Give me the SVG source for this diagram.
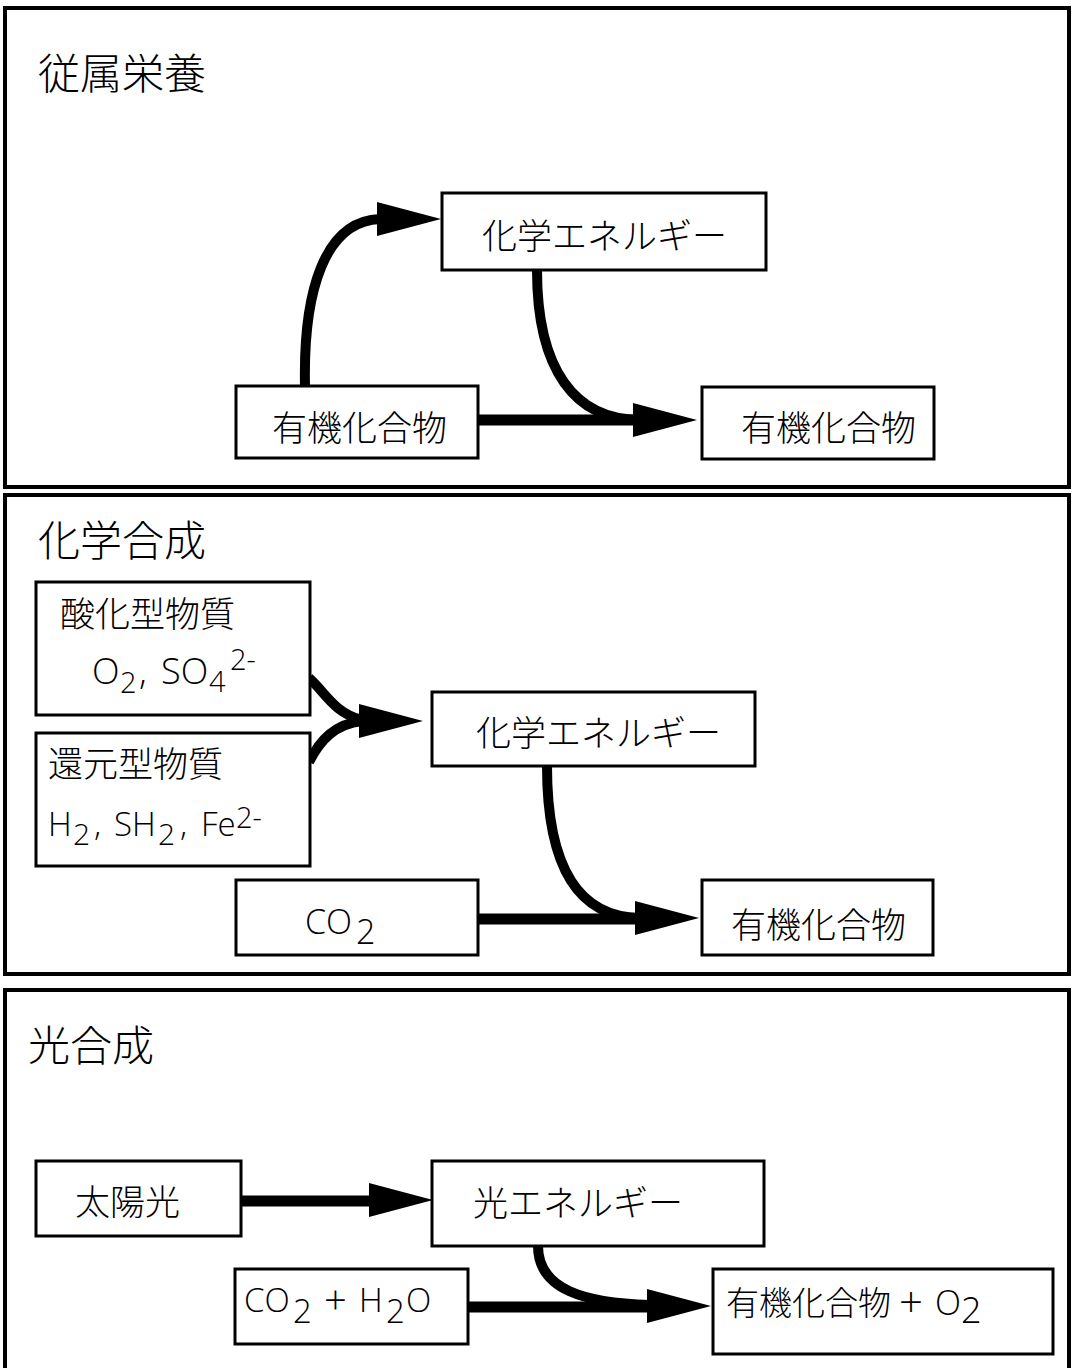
<svg xmlns="http://www.w3.org/2000/svg" xmlns:xlink="http://www.w3.org/1999/xlink" width="1072" height="1368" viewBox="0 0 1072 1368">
<style>
.panel{fill:#fff;stroke:#000;stroke-width:4}
.box{fill:#fff;stroke:#000;stroke-width:3}
.t{font-family:"Noto Sans CJK JP","Noto Sans",sans-serif;font-weight:300;fill:#000}
.l{font-family:"Open Sans","Liberation Sans","Noto Sans CJK JP",sans-serif;font-weight:300;fill:#000}
.title{font-size:42px}
.n{font-size:35px}
.line{fill:none;stroke:#000;stroke-width:11}
.curve{fill:none;stroke:#000;stroke-width:10}
</style>
<defs>
<path id="head" d="M0,-17 L64,0 L0,17 Z" fill="#000"/>
</defs>
<rect width="1072" height="1368" fill="#fff"/>
<g id="panel-heterotroph">
<rect class="panel" x="5" y="8" width="1064" height="479"/>
<text class="t title" x="38" y="89">従属栄養</text>
</g>
<g id="panel-chemosynthesis">
<rect class="panel" x="5" y="495" width="1064" height="479"/>
<text class="t title" x="38" y="556">化学合成</text>
</g>
<g id="panel-photosynthesis">
<rect class="panel" x="5" y="990" width="1064" height="390"/>
<text class="t title" x="28" y="1061">光合成</text>
</g>
<g id="connectors">
<path class="curve" d="M305,386 C303,290 325,221 380,219"/>
<path class="curve" d="M537,270 C537,370 575,420 640,420"/>
<path class="line" d="M478,420 L636,420"/>
<use xlink:href="#head" transform="translate(377,219)"/>
<use xlink:href="#head" transform="translate(633,420)"/>
<path class="curve" d="M309,678 C325,692 334,713 362,720"/>
<path class="curve" d="M309,762 C320,740 335,724 362,721"/>
<use xlink:href="#head" transform="translate(359,721)"/>
<path class="curve" d="M547,766 C547,870 580,917 640,918"/>
<path class="line" d="M479,919 L638,919"/>
<use xlink:href="#head" transform="translate(635,918)"/>
<path class="line" d="M241,1201 L372,1201"/>
<use xlink:href="#head" transform="translate(369,1200)"/>
<path class="curve" d="M538,1246 C538,1290 585,1303 650,1305"/>
<path class="line" d="M468,1307 L650,1307"/>
<use xlink:href="#head" transform="translate(647,1306)"/>
</g>
<g id="n1-chem-energy">
<rect class="box" x="442" y="193" width="324" height="77"/>
<text class="t n" x="482" y="249">化学エネルギー</text>
</g>
<g id="n1-organic-in">
<rect class="box" x="236" y="386" width="242" height="72"/>
<text class="t n" x="272" y="441">有機化合物</text>
</g>
<g id="n1-organic-out">
<rect class="box" x="702" y="387" width="232" height="72"/>
<text class="t n" x="741" y="441">有機化合物</text>
</g>
<g id="n2-oxidized">
<rect class="box" x="36" y="582" width="274" height="133"/>
<text class="t n" x="60" y="627">酸化型物質</text>
<text class="l" font-size="36" y="684"><tspan x="92">O</tspan><tspan x="120" y="693" font-size="29">2</tspan><tspan x="139" y="684">,</tspan><tspan x="161">SO</tspan><tspan x="209" y="692" font-size="29">4</tspan><tspan x="230" y="670" font-size="29">2-</tspan></text>
</g>
<g id="n2-reduced">
<rect class="box" x="36" y="733" width="274" height="133"/>
<text class="t n" x="48" y="777">還元型物質</text>
<text class="l" font-size="33" y="836"><tspan x="48">H</tspan><tspan x="73" y="845" font-size="30">2</tspan><tspan x="94" y="836">,</tspan><tspan x="114">SH</tspan><tspan x="158" y="845" font-size="30">2</tspan><tspan x="180" y="836">,</tspan><tspan x="201">Fe</tspan><tspan x="236" y="828" font-size="29">2-</tspan></text>
</g>
<g id="n2-chem-energy">
<rect class="box" x="432" y="692" width="323" height="74"/>
<text class="t n" x="476" y="746">化学エネルギー</text>
</g>
<g id="n2-co2">
<rect class="box" x="236" y="880" width="242" height="75"/>
<text class="l" font-size="34" y="934"><tspan x="305">CO</tspan><tspan x="356" y="944" font-size="34">2</tspan></text>
</g>
<g id="n2-organic">
<rect class="box" x="702" y="880" width="231" height="75"/>
<text class="t n" x="731" y="938">有機化合物</text>
</g>
<g id="n3-sunlight">
<rect class="box" x="36" y="1161" width="205" height="75"/>
<text class="t n" x="75" y="1215">太陽光</text>
</g>
<g id="n3-light-energy">
<rect class="box" x="432" y="1161" width="332" height="85"/>
<text class="t n" x="473" y="1216">光エネルギー</text>
</g>
<g id="n3-co2-h2o">
<rect class="box" x="235" y="1269" width="233" height="75"/>
<text class="l" font-size="33" y="1312"><tspan x="244">CO</tspan><tspan x="293" y="1323" font-size="33">2</tspan><tspan x="324" y="1314" font-size="40">+</tspan><tspan x="359" y="1312">H</tspan><tspan x="386" y="1323" font-size="33">2</tspan><tspan x="406" y="1312">O</tspan></text>
</g>
<g id="n3-output">
<rect class="box" x="713" y="1269" width="340" height="85"/>
<text class="t" font-size="33" x="726" y="1315">有機化合物</text>
<text class="l" font-size="34" y="1315"><tspan x="899" y="1317" font-size="42">+</tspan><tspan x="935" y="1315">O</tspan><tspan x="961" y="1323" font-size="36">2</tspan></text>
</g>
</svg>
